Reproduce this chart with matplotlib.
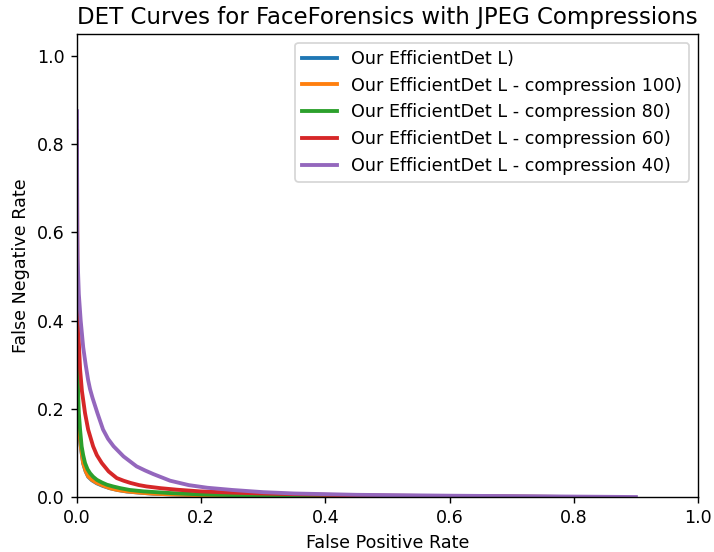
import matplotlib
matplotlib.use("Agg")
import matplotlib.pyplot as plt

labels = ["Our EfficientDet L)",
          "Our EfficientDet L - compression 100)",
          "Our EfficientDet L - compression 80)",
          "Our EfficientDet L - compression 60)",
          "Our EfficientDet L - compression 40)"]
colors = ["#1f77b4", "#ff7f0e", "#2ca02c", "#d62728", "#9467bd"]

fpr_base = [0.0, 0.0005, 0.001, 0.002, 0.004, 0.006, 0.008, 0.010, 0.014, 0.018, 0.024, 0.032, 0.042, 0.053, 0.065, 0.080, 0.100, 0.123, 0.150, 0.200, 0.300, 0.400, 0.550, 0.700, 0.850]
fnr_base = [0.33, 0.26, 0.22, 0.18, 0.14, 0.115, 0.095, 0.076, 0.058, 0.046, 0.038, 0.031, 0.025, 0.020, 0.016, 0.0125, 0.010, 0.0075, 0.006, 0.004, 0.0025, 0.0015, 0.0008, 0.0004, 0.0]

fpr_100 = [0.0, 0.0005, 0.001, 0.002, 0.004, 0.006, 0.008, 0.010, 0.014, 0.018, 0.024, 0.032, 0.042, 0.053, 0.065, 0.080, 0.100, 0.123, 0.150, 0.200, 0.300, 0.400, 0.550, 0.700, 0.850]
fnr_100 = [0.35, 0.27, 0.225, 0.185, 0.145, 0.118, 0.097, 0.077, 0.059, 0.047, 0.039, 0.032, 0.026, 0.020, 0.016, 0.0128, 0.010, 0.0075, 0.006, 0.004, 0.0025, 0.0015, 0.0008, 0.0004, 0.0]

fpr_80 = [0.0, 0.0005, 0.001, 0.002, 0.003, 0.005, 0.0075, 0.010, 0.013, 0.017, 0.021, 0.026, 0.032, 0.040, 0.048, 0.058, 0.070, 0.085, 0.107, 0.150, 0.198, 0.280, 0.400, 0.550, 0.700, 0.850]
fnr_80 = [0.45, 0.34, 0.29, 0.23, 0.19, 0.153, 0.115, 0.095, 0.077, 0.063, 0.054, 0.046, 0.039, 0.033, 0.028, 0.024, 0.020, 0.016, 0.0128, 0.009, 0.006, 0.0035, 0.002, 0.001, 0.0005, 0.0]

fpr_60 = [0.0, 0.0003, 0.0007, 0.001, 0.002, 0.003, 0.005, 0.008, 0.013, 0.018, 0.026, 0.032, 0.040, 0.051, 0.064, 0.075, 0.086, 0.100, 0.112, 0.135, 0.161, 0.198, 0.250, 0.300, 0.400, 0.500, 0.650, 0.800]
fnr_60 = [0.83, 0.65, 0.52, 0.47, 0.40, 0.35, 0.29, 0.24, 0.19, 0.153, 0.115, 0.095, 0.077, 0.058, 0.043, 0.037, 0.032, 0.027, 0.024, 0.020, 0.0166, 0.0128, 0.010, 0.008, 0.005, 0.003, 0.0015, 0.0]

fpr_40 = [0.0, 0.0002, 0.0005, 0.001, 0.003, 0.006, 0.010, 0.014, 0.018, 0.021, 0.025, 0.033, 0.042, 0.050, 0.059, 0.075, 0.096, 0.110, 0.123, 0.150, 0.180, 0.210, 0.250, 0.300, 0.350, 0.450, 0.600, 0.750, 0.900]
fnr_40 = [0.875, 0.75, 0.605, 0.54, 0.46, 0.40, 0.34, 0.30, 0.265, 0.245, 0.225, 0.19, 0.153, 0.132, 0.115, 0.092, 0.0695, 0.060, 0.052, 0.037, 0.027, 0.021, 0.016, 0.011, 0.008, 0.005, 0.003, 0.0015, 0.0]

fprs = [fpr_base, fpr_100, fpr_80, fpr_60, fpr_40]
fnrs = [fnr_base, fnr_100, fnr_80, fnr_60, fnr_40]

dpi = 126
plt.rcParams['font.size'] = 10
fig = plt.figure(figsize=(714/dpi, 552/dpi), dpi=dpi)
ax = fig.add_axes([0.1078, 0.0996, 0.8698, 0.8388])
for x, y, lab, c in zip(fprs, fnrs, labels, colors):
    ax.plot(x, y, color=c, lw=2.2, label=lab)
ax.set_xlim(0, 1)
ax.set_ylim(0, 1.05)
ax.set_xlabel("False Positive Rate")
ax.set_ylabel("False Negative Rate")
ax.set_title("DET Curves for FaceForensics with JPEG Compressions", fontsize=13.1)
ax.legend(loc="upper right")
fig.savefig("out.png", dpi=dpi)
